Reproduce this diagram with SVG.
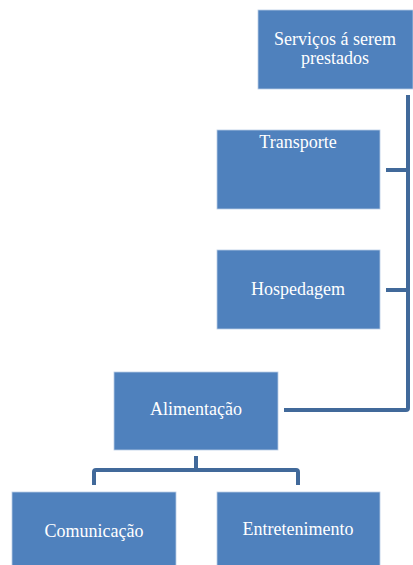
<svg xmlns="http://www.w3.org/2000/svg" width="413" height="565" viewBox="0 0 413 565">
<style>
.box{fill:#4f81bd;stroke:#b9cde5;stroke-width:0.8}
.lbl{font-family:'Liberation Serif','DejaVu Serif',serif;font-size:18px;fill:#ffffff;text-anchor:middle}
.con{fill:none;stroke:#41699a;stroke-width:4;stroke-linejoin:round}
</style>
<rect width="413" height="565" fill="#ffffff"/>
<g id="connectors">
<path class="con" d="M408 95 V408 Q408 410 406 410 H284"/>
<path class="con" d="M386 170 H408"/>
<path class="con" d="M386 290 H408"/>
<path class="con" d="M196 456 V470"/>
<path class="con" d="M94 485 V472 Q94 470 96 470 H296 Q298 470 298 472 V485"/>
</g>
<g id="servicos">
<rect class="box" x="258" y="10" width="155" height="79"/>
<text class="lbl" x="335" y="45">Serviços á serem</text>
<text class="lbl" x="335" y="64">prestados</text>
</g>
<g id="transporte">
<rect class="box" x="217" y="130" width="163" height="79"/>
<text class="lbl" x="298" y="148">Transporte</text>
</g>
<g id="hospedagem">
<rect class="box" x="217" y="250" width="163" height="79"/>
<text class="lbl" x="298" y="295">Hospedagem</text>
</g>
<g id="alimentacao">
<rect class="box" x="114" y="372" width="164" height="78"/>
<text class="lbl" x="196" y="415">Alimentação</text>
</g>
<g id="comunicacao">
<rect class="box" x="12" y="492" width="164" height="80"/>
<text class="lbl" x="94" y="537">Comunicação</text>
</g>
<g id="entretenimento">
<rect class="box" x="217" y="492" width="163" height="80"/>
<text class="lbl" x="298" y="535">Entretenimento</text>
</g>
</svg>
